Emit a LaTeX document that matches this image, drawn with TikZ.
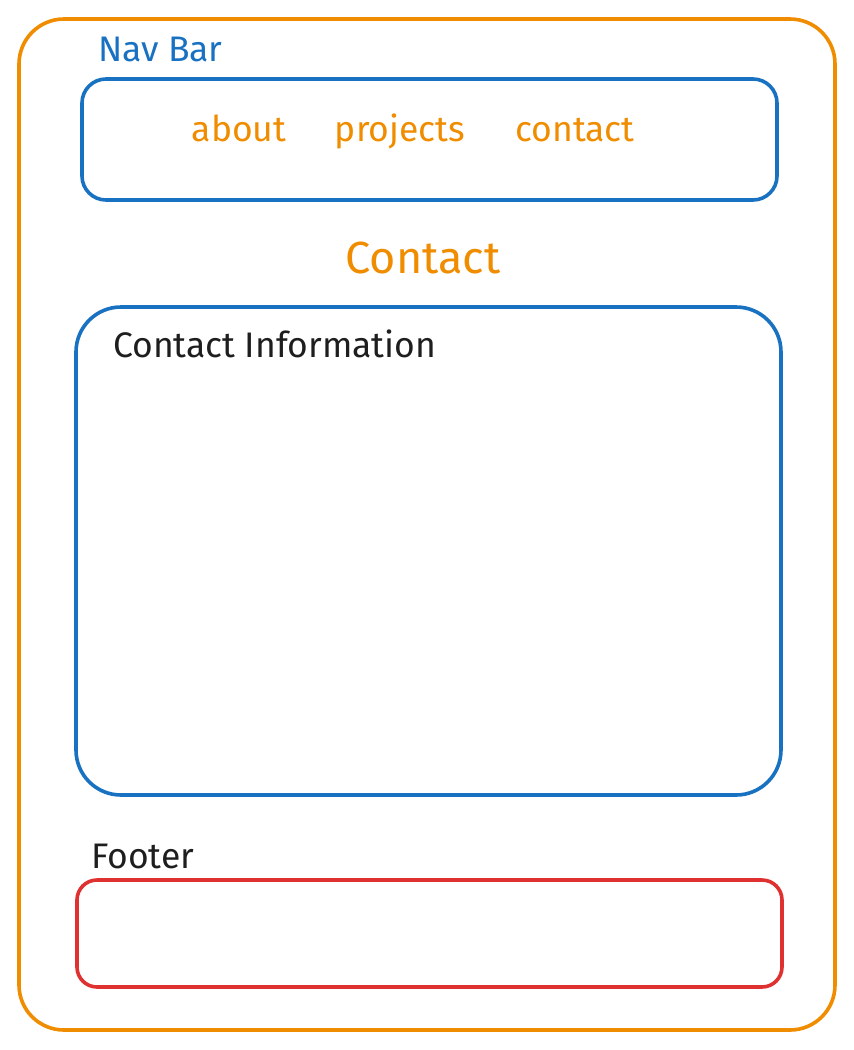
\documentclass[tikz,border=0pt]{standalone}
\usepackage{fontspec}
\setmainfont{Fira Sans}
\usetikzlibrary{positioning}
\definecolor{pageorange}{HTML}{F08C00}
\definecolor{navblue}{HTML}{1971C2}
\definecolor{footred}{HTML}{E03131}
\definecolor{inkblack}{HTML}{1E1E1E}
\begin{document}
\begin{tikzpicture}[x=1pt, y=-1pt, font=\fontsize{35.5}{40}\selectfont,
    frame/.style={line width=3.6pt, rounded corners=#1},
    label/.style={anchor=base west, inner sep=0pt},
    link/.style={pageorange, anchor=base, inner sep=0pt}]
        \useasboundingbox (0,0) rectangle (854,1050);
        \draw[frame=45pt, pageorange] (19,19) rectangle (835,1030);
        \node[label, navblue] (navtitle) at (98,61) {Nav Bar};
        \draw[frame=24pt, navblue] (82,79) rectangle (777,200);
        \node[link] (about) at (239,141) {about};
        \node[link] (projects) at (400,141) {projects};
        \node[link] (contact) at (575,141) {contact};
        \node[pageorange, anchor=base, inner sep=0pt, font=\fontsize{45}{50}\selectfont] (pagetitle) at (423,273) {Contact};
        \draw[frame=45pt, navblue] (76,307) rectangle (781,795);
        \node[label, inkblack] (infotitle) at (113,357) {Contact Information};
        \node[label, inkblack] (foottitle) at (91,868) {Footer};
        \draw[frame=20pt, footred] (77,880) rectangle (782,987);
      \end{tikzpicture}
\end{document}
